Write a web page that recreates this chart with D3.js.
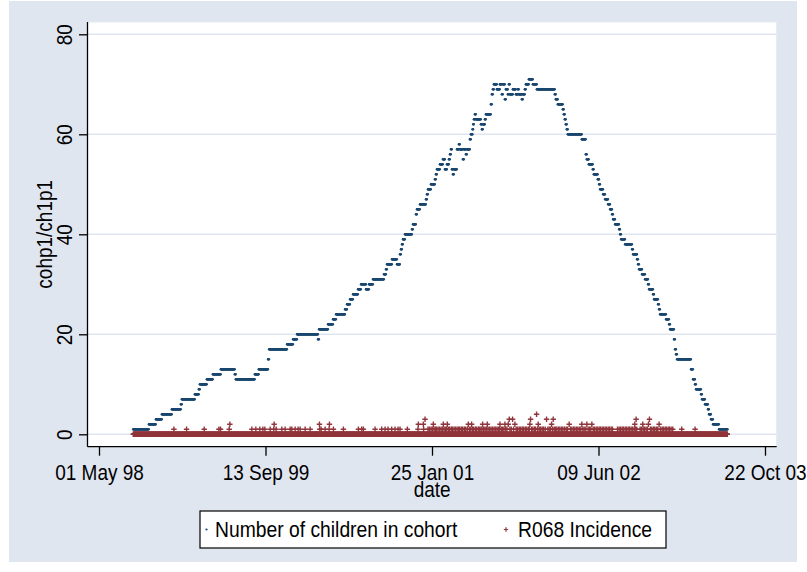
<!DOCTYPE html>
<html>
<head>
<meta charset="utf-8">
<script src="https://cdn.jsdelivr.net/npm/d3@7"></script>
<style>
  body { margin: 0; background: #fff; }
  svg text { font-family: "Liberation Sans", Arial, sans-serif; fill: #000; }
</style>
</head>
<body>
<svg id="chart"></svg>
<script>
// all days are counted from 01 May 98 (the first x tick)
const xTickDates = ["1998-05-01", "1999-09-13", "2001-01-25", "2002-06-09", "2003-10-22"];
const yTicks = [0, 20, 40, 60, 80];
const seriesNames = ["Number of children in cohort", "R068 Incidence"];
const firstDay = 103;
const lastDay = 1887;

// cohort size: [day it changes, new value]
const cohortSteps = [
  [103,1],[150,2],[171,3],[189,4],[219,5],[246,6],[249,7],[288,8],[300,9],[303,10],
  [324,11],[342,12],[366,13],[408,12],[411,11],[468,12],[480,13],[508,15],[511,17],[565,18],
  [583,19],[595,20],[658,19],[661,21],[688,22],[703,23],[712,24],[739,25],[745,26],[754,27],
  [763,28],[778,29],[787,30],[802,29],[811,30],[823,31],[856,32],[862,33],[865,34],[880,35],
  [895,34],[904,36],[907,37],[910,38],[913,39],[919,40],[940,41],[943,42],[952,44],[955,45],
  [964,46],[982,47],[985,48],[988,49],[997,50],[1009,51],[1012,52],[1015,53],[1024,54],[1033,55],
  [1039,53],[1045,54],[1051,55],[1054,56],[1057,57],[1060,53],[1063,52],[1066,53],[1075,57],[1081,58],
  [1084,57],[1093,55],[1096,57],[1102,56],[1105,57],[1114,59],[1117,60],[1122,61],[1124,62],[1126,63],
  [1129,64],[1132,63],[1147,62],[1150,61],[1153,62],[1159,63],[1162,64],[1177,66],[1180,68],[1183,69],
  [1186,70],[1195,69],[1204,70],[1210,68],[1213,70],[1219,67],[1222,69],[1228,68],[1231,70],[1234,68],
  [1243,69],[1252,68],[1258,69],[1261,68],[1270,67],[1273,68],[1279,69],[1282,70],[1291,71],[1303,70],
  [1315,69],[1369,68],[1372,67],[1378,66],[1393,65],[1396,64],[1399,63],[1402,62],[1405,61],[1408,60],
  [1450,59],[1462,56],[1465,55],[1471,54],[1483,53],[1486,52],[1498,51],[1502,50],[1505,49],[1514,48],
  [1520,47],[1529,46],[1535,45],[1541,44],[1544,43],[1550,42],[1562,41],[1565,40],[1568,39],[1580,38],
  [1601,37],[1604,36],[1616,35],[1619,34],[1622,33],[1631,32],[1640,31],[1649,30],[1652,29],[1664,28],
  [1667,27],[1679,26],[1682,25],[1685,24],[1703,23],[1712,22],[1715,21],[1727,19],[1730,17],[1733,16],
  [1736,15],[1778,13],[1784,11],[1790,10],[1793,9],[1808,8],[1811,7],[1820,6],[1829,5],[1832,4],
  [1838,3],[1844,2],[1862,1]
];

// incidence: days with 1, 2, 3 and 4 cases (every other day is 0)
const incidence1 = [
  225,263,316,360,365,391,459,471,483,492,498,514,525,532,549,559,574,579,589,598,
  604,619,634,663,667,679,691,704,734,779,789,794,829,849,859,868,879,889,898,904,
  926,958,975,988,992,997,1001,1006,1010,1013,1018,1022,1027,1031,1036,1040,1044,1049,1053,
  1058,1061,1066,1070,1075,1079,1083,1088,1092,1097,1101,1106,1112,1116,1121,1125,1130,1134,1139,
  1143,1147,1150,1155,1159,1163,1168,1172,1177,1181,1186,1190,1195,1199,1203,1208,1212,1216,1221,
  1225,1234,1238,1245,1253,1257,1262,1266,1271,1275,1280,1284,1289,1292,1299,1303,1308,1311,1317,
  1322,1326,1331,1335,1340,1348,1352,1356,1362,1367,1371,1375,1380,1384,1389,1393,1398,1403,1407,
  1416,1420,1425,1429,1434,1438,1443,1447,1453,1457,1462,1469,1473,1477,1484,1488,1493,1497,1502,
  1506,1511,1515,1520,1524,1529,1533,1538,1542,1557,1562,1566,1571,1575,1580,1584,1589,1593,1598,
  1602,1607,1611,1615,1625,1629,1634,1638,1643,1647,1656,1660,1665,1669,1674,1678,1686,1691,1695,
  1700,1704,1709,1713,1718,1723,1750,1790
];
const incidence2 = [393,526,662,692,959,974,1004,1034,1046,1109,1119,1152,1166,1204,1219,1229,1249,
  1294,1319,1359,1412,1450,1465,1480,1609,1633,1650,1682];
const incidence3 = [979,1232,1242,1296,1344,1364,1613,1653];
const incidence4 = [1314];

class CohortChart {

  constructor(_config) {
    this.config = {
      parentElement: _config.parentElement,
      containerWidth: _config.containerWidth || 807,
      containerHeight: _config.containerHeight || 572,
      margin: _config.margin || {top: 22, right: 30.3, bottom: 125.3, left: 87.5},
      fontSize: _config.fontSize || 19,
      stretch: _config.stretch || 1.12   // the original glyphs are a bit taller than Arial
    };
    this.initVis();
  }

  initVis() {
    let vis = this;
    const m = vis.config.margin;
    const fs = vis.config.fontSize + 'px';
    const st = vis.config.stretch;

    vis.width = vis.config.containerWidth - m.left - m.right;
    vis.height = vis.config.containerHeight - m.top - m.bottom;

    vis.svg = d3.select(vis.config.parentElement)
        .attr('width', vis.config.containerWidth)
        .attr('height', vis.config.containerHeight);

    // graph region background
    vis.svg.append('rect')
        .attr('x', 9).attr('y', 1)
        .attr('width', 788).attr('height', 561)
        .attr('fill', '#e0e6f0');

    vis.chart = vis.svg.append('g')
        .attr('transform', `translate(${m.left},${m.top})`);

    vis.chart.append('rect')
        .attr('width', vis.width)
        .attr('height', vis.height)
        .attr('fill', '#fff')
        .attr('stroke', '#e4e9f1');

    vis.dayToDate = d => new Date(Date.UTC(1998, 4, 1) + d * 864e5);

    vis.xScale = d3.scaleUtc()
        .domain([new Date(xTickDates[0]), new Date(xTickDates[xTickDates.length - 1])])
        .range([11.5, 677.5]);

    vis.yScale = d3.scaleLinear()
        .domain([0, 80])
        .range([412.3, 12.3]);

    // horizontal grid
    vis.chart.append('g')
      .selectAll('line')
      .data(yTicks)
      .join('line')
        .attr('x1', 0)
        .attr('x2', vis.width)
        .attr('y1', d => vis.yScale(d))
        .attr('y2', d => vis.yScale(d))
        .attr('stroke', '#dfe5ee')
        .attr('stroke-width', 1.5);

    vis.xAxis = d3.axisBottom(vis.xScale)
        .tickValues(xTickDates.map(s => new Date(s)))
        .tickFormat(d3.utcFormat('%d %b %y'))
        .tickSize(9)
        .tickSizeOuter(0);

    vis.yAxis = d3.axisLeft(vis.yScale)
        .tickValues(yTicks)
        .tickSize(8.5)
        .tickSizeOuter(0);

    vis.xAxisG = vis.chart.append('g')
        .attr('transform', `translate(0,${vis.height})`)
        .call(vis.xAxis);

    vis.yAxisG = vis.chart.append('g')
        .call(vis.yAxis);

    // axis lines span the whole plot region
    vis.xAxisG.select('.domain').attr('d', `M0,0H${vis.width}`);
    vis.yAxisG.select('.domain').attr('d', `M0,0V${vis.height}`);

    [vis.xAxisG, vis.yAxisG].forEach(g => {
      g.selectAll('.domain, .tick line').attr('stroke', '#000').attr('stroke-width', 1.3);
      g.selectAll('text').attr('font-size', fs).attr('font-family', null);
    });

    vis.xAxisG.selectAll('.tick text')
        .attr('y', null).attr('dy', null)
        .attr('transform', `translate(0,33) scale(1,${st})`);

    vis.yAxisG.selectAll('.tick text')
        .attr('x', null).attr('dy', null).attr('y', null)
        .attr('text-anchor', 'middle')
        .attr('transform', `translate(-15.5,0) rotate(-90) scale(1,${st})`);

    vis.chart.append('text')
        .attr('transform', `translate(${vis.width / 2},${vis.height + 50}) scale(1,${st})`)
        .attr('text-anchor', 'middle')
        .attr('font-size', fs)
        .text('date');

    vis.chart.append('text')
        .attr('transform', `translate(-36,${vis.yScale(40)}) rotate(-90) scale(1,${st})`)
        .attr('text-anchor', 'middle')
        .attr('font-size', fs)
        .text('cohp1/ch1p1');

    vis.updateVis();
    vis.drawLegend();
  }

  updateVis() {
    let vis = this;

    const days = d3.range(firstDay, lastDay + 1);
    const stepIndex = d3.bisector(d => d[0]).right;
    const cohort = days.map(d => ({day: d, value: cohortSteps[Math.max(0, stepIndex(cohortSteps, d) - 1)][1]}));

    const cases = new Map();
    [incidence1, incidence2, incidence3, incidence4].forEach((list, i) => {
      list.forEach(d => cases.set(d, i + 1));
    });
    const incidence = days.map(d => ({day: d, value: cases.get(d) || 0}));

    vis.chart.append('g')
      .selectAll('circle')
      .data(cohort)
      .join('circle')
        .attr('cx', d => vis.xScale(vis.dayToDate(d.day)))
        .attr('cy', d => vis.yScale(d.value))
        .attr('r', 1.3)
        .attr('fill', '#1a476f');

    vis.plus = 'M-2.7,0H2.7M0,-2.7V2.7';

    vis.chart.append('g')
      .selectAll('path')
      .data(incidence)
      .join('path')
        .attr('transform', d => `translate(${vis.xScale(vis.dayToDate(d.day))},${vis.yScale(d.value)})`)
        .attr('d', vis.plus)
        .attr('fill', 'none')
        .attr('stroke', '#90353b')
        .attr('stroke-width', 1.4);
  }

  drawLegend() {
    let vis = this;
    const st = vis.config.stretch;
    const lg = vis.svg.append('g').attr('transform', 'translate(200,511)');

    lg.append('rect')
        .attr('width', 466)
        .attr('height', 37)
        .attr('fill', '#fff')
        .attr('stroke', '#000')
        .attr('stroke-width', 1.2);

    lg.append('circle')
        .attr('cx', 6.5).attr('cy', 18.5).attr('r', 1.1)
        .attr('fill', '#1a476f');

    lg.append('path')
        .attr('transform', 'translate(306,18.5)')
        .attr('d', 'M-2.2,0H2.2M0,-2.2V2.2')
        .attr('stroke', '#90353b')
        .attr('stroke-width', 1.2);

    lg.selectAll('text.lab')
      .data(seriesNames)
      .join('text')
        .attr('class', 'lab')
        .attr('transform', (d, i) => `translate(${i === 0 ? 15 : 318},25.5) scale(1,${st})`)
        .attr('font-size', '19.3px')
        .text(d => d);
  }
}

new CohortChart({parentElement: '#chart'});
</script>
</body>
</html>
